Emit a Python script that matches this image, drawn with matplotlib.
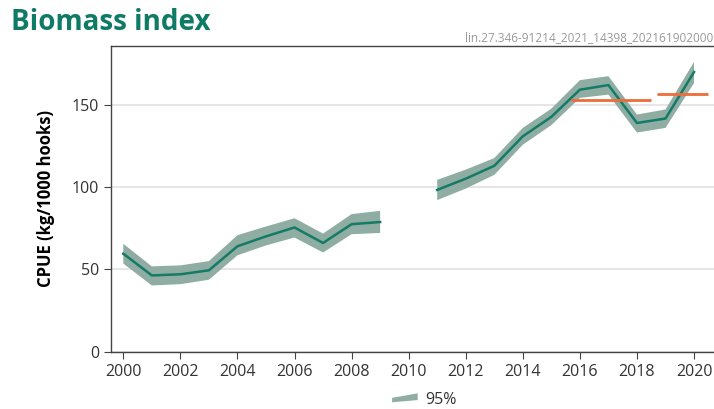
import numpy as np
import matplotlib.pyplot as plt
from matplotlib.patches import Polygon
from matplotlib.legend_handler import HandlerPatch

plt.rcParams['font.family'] = ['Open Sans', 'DejaVu Sans']

# biomass index (CPUE) with 95% bounds; no survey in 2010
years = [2000, 2001, 2002, 2003, 2004, 2005, 2006, 2007, 2008, 2009, 2010,
         2011, 2012, 2013, 2014, 2015, 2016, 2017, 2018, 2019, 2020]
cpue = [59.5, 46.3, 47.0, 49.4, 64.0, 70.0, 75.4, 66.0, 77.4, 78.7, np.nan,
        98.2, 105.0, 112.8, 130.7, 142.5, 159.0, 161.8, 138.8, 141.5, 169.7]
lower = [53.5, 40.2, 41.0, 43.7, 58.5, 64.5, 69.3, 60.2, 71.3, 72.1, np.nan,
         92.0, 99.0, 107.3, 125.6, 137.5, 154.0, 156.0, 133.0, 135.8, 163.0]
upper = [65.5, 51.8, 52.4, 55.0, 70.7, 76.0, 81.0, 71.7, 83.5, 85.5, np.nan,
         104.3, 110.5, 117.5, 135.8, 147.5, 164.8, 167.2, 143.9, 147.0, 175.8]

# mean index over the two assessment periods
period_start = [2015.7, 2018.7]
period_end = [2018.5, 2020.5]
period_mean = [153.0, 156.3]

teal = '#157a68'
band = '#8fada2'
orange = '#ee6c3a'

fig = plt.figure(figsize=(7.14, 4.09), dpi=100)
ax = fig.add_axes([0.1555, 0.140, 0.8445, 0.7475])

ax.fill_between(years, lower, upper, color=band, lw=0)
ax.plot(years, cpue, color=teal, lw=1.8)
ax.hlines(period_mean, period_start, period_end, color=orange, lw=2)

ax.set_xlim(1999.57, 2020.7)
ax.set_ylim(0, 185.5)
ax.set_xticks(range(2000, 2021, 2))
ax.set_yticks([0, 50, 100, 150])
ax.grid(axis='y', color='#e2e2e2', lw=1.2)
ax.set_axisbelow(True)
ax.spines['right'].set_visible(False)
for s in ['left', 'top', 'bottom']:
    ax.spines[s].set_color('#444444')
    ax.spines[s].set_linewidth(1)
ax.tick_params(colors='#444444', labelcolor='#333333', labelsize=11.5, length=5)
ax.set_ylabel('CPUE (kg/1000 hooks)', fontsize=12, fontweight='bold', labelpad=12)


def wedge(legend, orig_handle, xdescent, ydescent, width, height, fontsize):
    return Polygon([[0, height * 0.15], [width, height * 0.35],
                    [width, height * 0.95], [0, height * 0.55]], closed=True)


ci_handle = Polygon([[0, 0]], closed=True, facecolor=band, edgecolor='none')
ax.legend([ci_handle], ['95%'], loc='upper center', bbox_to_anchor=(0.52, -0.095),
          frameon=False, fontsize=11.5, handlelength=1.6, handletextpad=0.5,
          handler_map={Polygon: HandlerPatch(patch_func=wedge)},
          labelcolor='#333333', borderpad=0.2)

fig.text(0.016, 0.927, 'Biomass index', fontsize=20, fontweight='bold', color='#0f7b66')
fig.text(0.999, 0.9, 'lin.27.346-91214_2021_14398_202161902000', fontsize=8.5,
         color='#999999', ha='right')

fig.savefig('out.png', dpi=100)
